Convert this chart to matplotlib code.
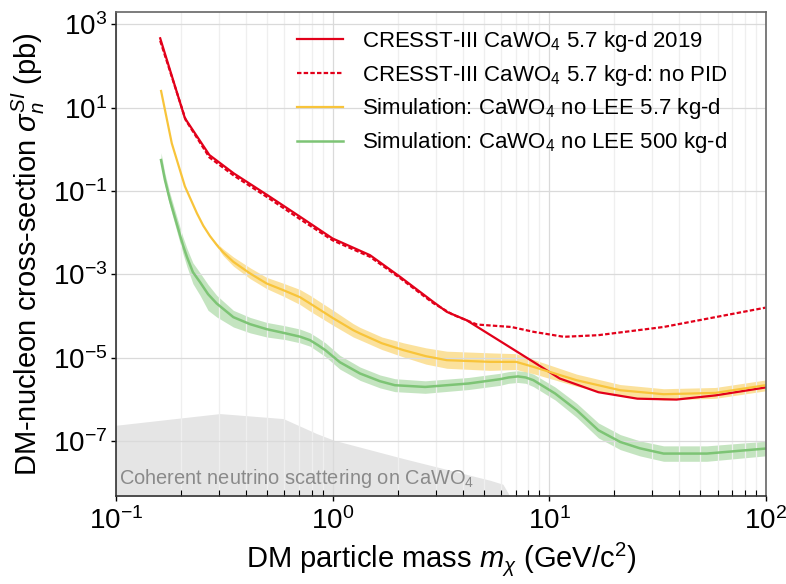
import numpy as np
import matplotlib
matplotlib.use('agg')
import matplotlib.pyplot as plt
from matplotlib.ticker import FixedLocator, NullLocator, NullFormatter, LogLocator

plt.rcParams['font.family'] = ['Liberation Sans', 'DejaVu Sans']
plt.rcParams['mathtext.fontset'] = 'custom'
plt.rcParams['mathtext.rm'] = 'Liberation Sans'
plt.rcParams['mathtext.it'] = 'Liberation Sans:italic'
plt.rcParams['mathtext.bf'] = 'Liberation Sans:bold'

# CRESST-III 2019 limit (GeV, pb)
cresst_mass = [0.16, 0.208, 0.27, 0.35, 0.50, 0.71, 1.0, 1.49, 2.05, 2.92, 3.37, 4.16,
               8.5, 11.2, 16.9, 25.6, 38.8, 58.8, 100]
cresst_sigma = [460, 5.6, 0.73, 0.265, 0.080, 0.024, 7.3e-3, 2.9e-3, 8.8e-4, 2.2e-4, 1.27e-4, 8.0e-5,
                7.9e-6, 3.2e-6, 1.5e-6, 1.05e-6, 1.0e-6, 1.26e-6, 1.95e-6]

# CRESST-III without particle identification
nopid_mass = [0.16, 0.21, 0.27, 0.35, 0.50, 0.71, 1.0, 1.49, 2.05, 2.92, 3.6, 4.65,
              6.7, 8.5, 11.7, 16.9, 33.8, 58.8, 100]
nopid_sigma = [400, 5.0, 0.64, 0.235, 0.071, 0.021, 6.6e-3, 2.65e-3, 8.2e-4, 2.05e-4, 1.08e-4, 6.3e-5,
               5.5e-5, 4.2e-5, 3.2e-5, 3.5e-5, 5.5e-5, 9.5e-5, 1.6e-4]

# simulation 5.7 kg-d, median (log10 pb)
sim57_mass = [0.1615, 0.181, 0.208, 0.2366, 0.2529, 0.2716, 0.2917, 0.3126, 0.3483, 0.416, 0.496,
              0.592, 0.707, 0.787, 1.007, 1.246, 1.34, 1.69, 2.13, 2.7, 3.37, 5.35, 7.05, 8.47, 13.4,
              21.3, 33.8, 58.7, 100]
sim57_log = [1.40, 0.143, -0.886, -1.537, -1.83, -2.08, -2.29, -2.47, -2.697, -2.976, -3.216,
             -3.376, -3.545, -3.696, -4.05, -4.336, -4.416, -4.65, -4.816, -4.96, -5.056, -5.096,
             -5.096, -5.216, -5.536, -5.776, -5.872, -5.84, -5.656]
sim57_band_mass = [0.2716, 0.2917, 0.3126, 0.3483, 0.416, 0.496, 0.592, 0.707, 0.787, 1.007, 1.246,
                   1.34, 1.69, 2.13, 2.7, 3.37, 5.35, 7.05, 8.47, 13.4, 21.3, 33.8, 58.7, 100]
sim57_hi_log = [-2.07, -2.25, -2.39, -2.58, -2.84, -3.07, -3.21, -3.36, -3.50, -3.86, -4.18,
                -4.27, -4.50, -4.64, -4.76, -4.84, -4.88, -4.90, -5.04, -5.39, -5.64, -5.74, -5.71, -5.53]
sim57_lo_log = [-2.09, -2.33, -2.55, -2.80, -3.10, -3.34, -3.52, -3.72, -3.88, -4.22, -4.50,
                -4.57, -4.80, -4.98, -5.15, -5.25, -5.30, -5.28, -5.38, -5.68, -5.92, -6.01, -5.97, -5.79]

# simulation 500 kg-d (log10 pb)
sim500_mass = [0.1614, 0.1683, 0.1774, 0.1905, 0.2037, 0.2128, 0.2265, 0.2443, 0.2661, 0.2917, 0.3483,
               0.4159, 0.4966, 0.6026, 0.7079, 0.787, 0.857, 0.9268, 1.081, 1.34, 1.656, 1.941, 2.679,
               4.246, 5.929, 6.5, 7.178, 7.8, 8.472, 10.67, 13.43, 16.9, 21.33, 26.24, 33.81, 53.58, 100]
sim500_log = [-0.257, -0.737, -1.217, -1.776, -2.296, -2.584, -2.944, -3.184, -3.472, -3.696, -4.024,
              -4.192, -4.312, -4.408, -4.492, -4.576, -4.696, -4.816, -5.104, -5.375, -5.560, -5.656, -5.697,
              -5.615, -5.512, -5.47, -5.445, -5.47, -5.536, -5.855, -6.256, -6.736, -7.017, -7.168, -7.295,
              -7.295, -7.175]
sim500_hi_log = [-0.08, -0.58, -1.05, -1.60, -2.10, -2.38, -2.72, -2.96, -3.24, -3.50, -3.86,
                 -4.03, -4.15, -4.23, -4.31, -4.40, -4.52, -4.64, -4.94, -5.22, -5.41, -5.50, -5.55,
                 -5.47, -5.37, -5.33, -5.31, -5.33, -5.39, -5.70, -6.09, -6.56, -6.84, -6.99, -7.11,
                 -7.11, -7.00]
sim500_lo_log = [-0.34, -0.86, -1.37, -1.95, -2.50, -2.82, -3.22, -3.50, -3.86, -4.02, -4.26,
                 -4.40, -4.50, -4.56, -4.64, -4.72, -4.85, -4.97, -5.27, -5.54, -5.72, -5.81, -5.85,
                 -5.76, -5.66, -5.61, -5.59, -5.61, -5.69, -6.01, -6.43, -6.92, -7.20, -7.35, -7.48,
                 -7.48, -7.35]

# coherent neutrino scattering floor (log10 pb)
nu_mass = [0.1, 0.302, 0.592, 0.845, 1.016, 2.13, 5.35, 6.12, 6.92]
nu_log = [-6.616, -6.336, -6.456, -6.816, -6.976, -7.416, -7.936, -8.03, -8.5]

red = '#e2001a'
yellow = '#f8c43a'
green = '#7dc475'

fig, ax = plt.subplots(figsize=(7.86, 5.84), dpi=100)
fig.subplots_adjust(left=0.1476, right=0.974, top=0.98, bottom=0.1515)

ax.fill_between(nu_mass, 1e-12, np.power(10.0, nu_log), color='#e5e5e5', lw=0, zorder=0.5)

ax.fill_between(sim500_mass, np.power(10.0, sim500_lo_log), np.power(10.0, sim500_hi_log),
                color=green, alpha=0.45, lw=0)
ax.fill_between(sim57_band_mass, np.power(10.0, sim57_lo_log), np.power(10.0, sim57_hi_log),
                color=yellow, alpha=0.5, lw=0)

ax.plot(cresst_mass, cresst_sigma, color=red, lw=1.6, label=r'CRESST-III CaWO$_4$ 5.7 kg-d 2019')
ax.plot(nopid_mass, nopid_sigma, color=red, lw=1.6, dashes=(2, 1),
        label=r'CRESST-III CaWO$_4$ 5.7 kg-d: no PID')
ax.plot(sim57_mass, np.power(10.0, sim57_log), color=yellow, lw=1.6,
        label=r'Simulation: CaWO$_4$ no LEE 5.7 kg-d')
ax.plot(sim500_mass, np.power(10.0, sim500_log), color=green, lw=1.8,
        label=r'Simulation: CaWO$_4$ no LEE 500 kg-d')

ax.text(0.005, 0.012, r'Coherent neutrino scattering on CaWO$_4$', transform=ax.transAxes,
        fontsize=14.4, color='#8a8a8a', ha='left', va='bottom')

ax.set_xscale('log')
ax.set_yscale('log')
ax.set_xlim(0.1, 100)
ax.set_ylim(5e-9, 2e3)
ax.yaxis.set_major_locator(FixedLocator([1e-7, 1e-5, 1e-3, 1e-1, 1e1, 1e3]))
ax.yaxis.set_minor_locator(NullLocator())
ax.xaxis.set_minor_locator(LogLocator(base=10, subs=np.arange(2, 10)))
ax.xaxis.set_minor_formatter(NullFormatter())

ax.grid(which='major', color='#dadada', lw=0.9)
ax.grid(which='minor', axis='x', color='#efefef', lw=0.9)

ax.tick_params(which='major', direction='out', length=3.5, width=1, labelsize=20, pad=3)
ax.tick_params(axis='x', which='major', pad=5)
ax.tick_params(which='minor', direction='in', length=4, width=0.8)
for side in ['left', 'bottom']:
    ax.spines[side].set_color('#333333')
for side in ['top', 'right']:
    ax.spines[side].set_color('#666666')
for s in ax.spines.values():
    s.set_linewidth(1.2)

ax.set_xlabel(r'DM particle mass $m_\chi$ (GeV/c$^2$)', fontsize=21)
ax.set_ylabel(r'DM-nucleon cross-section $\sigma_n^{SI}$ (pb)', fontsize=21)

ax.legend(loc='upper left', bbox_to_anchor=(0.278, 0.965), frameon=False, fontsize=16,
          borderpad=0, borderaxespad=0, handlelength=2.1, handletextpad=0.85, labelspacing=0.4)

fig.savefig('out.png', dpi=100)
